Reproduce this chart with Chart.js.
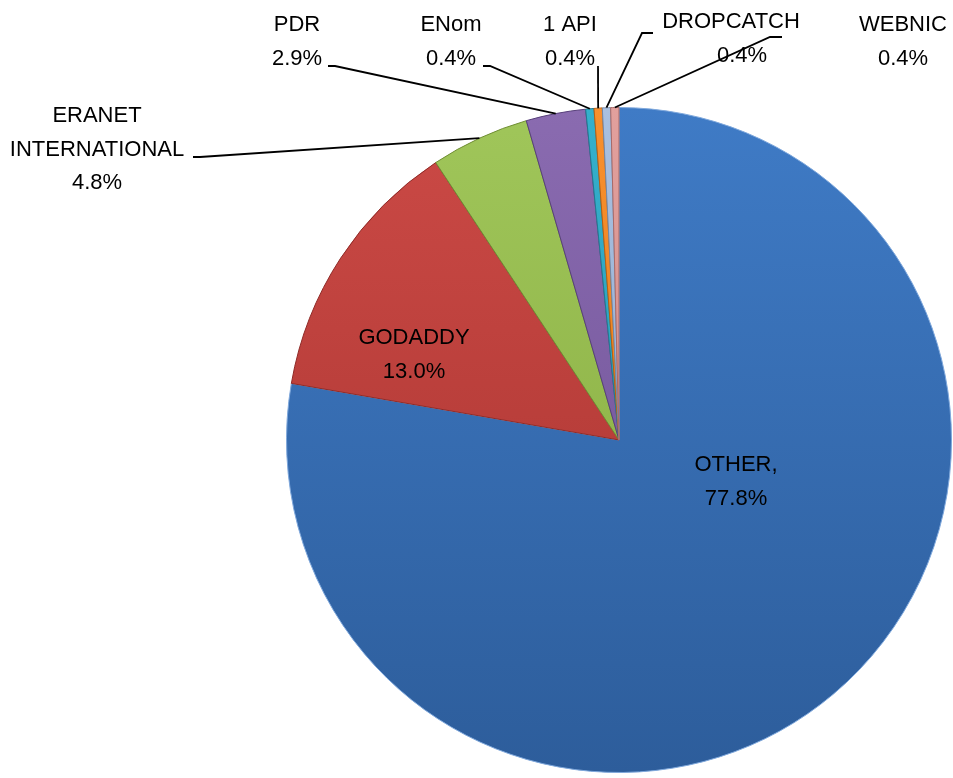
<!DOCTYPE html>
<html>
<head>
<meta charset="utf-8">
<script src="https://cdn.jsdelivr.net/npm/chart.js@4"></script>
<style>
  html, body { margin: 0; padding: 0; background: #fff; }
  #wrap { width: 953px; height: 778px; }
</style>
</head>
<body>
<div id="wrap"><canvas id="pie"></canvas></div>
<script>
const registrars = ["OTHER", "GODADDY", "ERANET INTERNATIONAL", "PDR", "ENom", "1 API", "DROPCATCH", "WEBNIC"];
const shares = [77.8, 13.0, 4.8, 2.9, 0.4, 0.4, 0.4, 0.4];

// top / bottom colours of each slice (Excel-ish shading)
const topColors = ["#3f7bc6", "#cc4a46", "#a0c65a", "#8a6bb0", "#35b0cc", "#f8902e", "#a9c0e0", "#e2a09d"];
const bottomColors = ["#2d5d9b", "#a5322e", "#84a83d", "#6a4e92", "#2591aa", "#dd7414", "#8aa4c8", "#c9817e"];
const edgeColors = ["#7fa8dc", "#8f2b28", "#6f8d33", "#573f7a", "#1f7a90", "#b85f10", "#7288a8", "#a86a68"];

// where Excel left the labels (canvas px); lines = text rows
const labelLayout = [
  { x: 736, y: 465, lines: ["OTHER,", "77.8%"], inside: true },
  { x: 414, y: 338, lines: ["GODADDY", "13.0%"], inside: true },
  { x: 97, y: 116, lines: ["ERANET", "INTERNATIONAL", "4.8%"], hook: [[193, 157], [200, 157]] },
  { x: 297, y: 25, lines: ["PDR", "2.9%"], hook: [[328, 66], [335, 66]] },
  { x: 451, y: 25, lines: ["ENom", "0.4%"], hook: [[483, 66], [490, 66]] },
  { x: 570, y: 25, lines: ["1 API", "0.4%"], hook: [[598, 66], [598, 66]] },
  { x: 731, y: 22, lines: ["DROPCATCH", "0.4%"], hook: [[653, 33], [642, 33]] },
  { x: 903, y: 25, lines: ["WEBNIC", "0.4%"], hook: [[782, 37], [770, 37]] }
];

function sliceFill(ctx) {
  const area = ctx.chart.chartArea;
  if (!area) return topColors[ctx.dataIndex];
  const g = ctx.chart.ctx.createLinearGradient(0, area.top, 0, area.bottom);
  g.addColorStop(0, topColors[ctx.dataIndex]);
  g.addColorStop(1, bottomColors[ctx.dataIndex]);
  return g;
}

const labelPlugin = {
  id: "excelLabels",
  afterDatasetsDraw(chart) {
    const c = chart.ctx;
    const arcs = chart.getDatasetMeta(0).data;
    c.save();
    c.font = "22px 'Liberation Sans', Arial, sans-serif";
    c.fillStyle = "#000";
    c.textAlign = "center";
    c.textBaseline = "middle";
    labelLayout.forEach((lab, i) => {
      lab.lines.forEach((t, k) => {
        let lx = lab.x;
        if (registrars[i] === "DROPCATCH" && k === 1) lx = 742;
        c.fillText(t, lx, lab.y + k * 33.5);
      });
      if (lab.inside) return;
      const a = arcs[i];
      const mid = (a.startAngle + a.endAngle) / 2;
      const px = a.x + Math.cos(mid) * a.outerRadius;
      const py = a.y + Math.sin(mid) * a.outerRadius;
      c.beginPath();
      c.strokeStyle = "#000";
      c.lineWidth = 1.8;
      c.moveTo(lab.hook[0][0], lab.hook[0][1]);
      c.lineTo(lab.hook[1][0], lab.hook[1][1]);
      c.lineTo(px, py);
      c.stroke();
    });
    c.restore();
  }
};

new Chart(document.getElementById("pie"), {
  type: "pie",
  data: {
    labels: registrars,
    datasets: [{
      data: shares,
      backgroundColor: (ctx) => sliceFill(ctx),
      borderColor: edgeColors,
      borderWidth: 1
    }]
  },
  options: {
    responsive: true,
    maintainAspectRatio: false,
    animation: false,
    rotation: 0,
    layout: { padding: { top: 107, bottom: 5, left: 286, right: 1 } },
    plugins: {
      legend: { display: false },
      tooltip: { enabled: false }
    }
  },
  plugins: [labelPlugin]
});
</script>
</body>
</html>
